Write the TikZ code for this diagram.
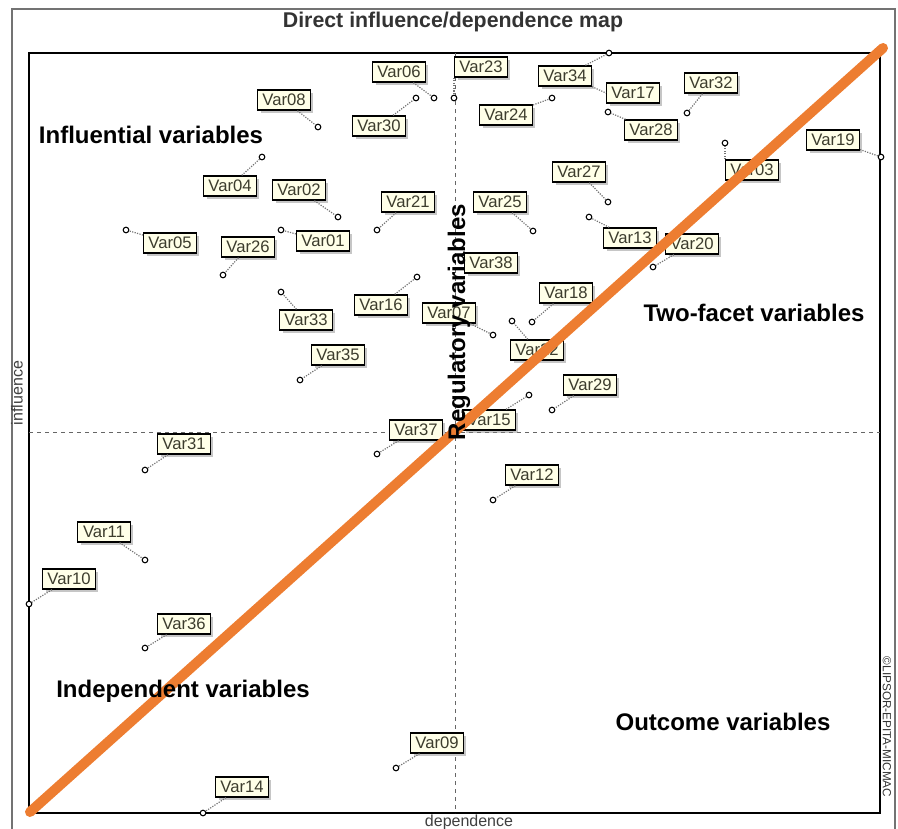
\documentclass[tikz,border=0pt]{standalone}
\usepackage{fontspec}
\setmainfont{Liberation Sans}
\usetikzlibrary{shadows}

\definecolor{labfill}{RGB}{255,255,232}
\definecolor{labtext}{RGB}{60,60,45}
\definecolor{diagline}{RGB}{237,125,49}
\definecolor{titletext}{RGB}{51,51,51}

\tikzset{every picture/.style={line width=0.75pt}}
\tikzset{
  varlab/.style={draw=black, line width=1pt, fill=labfill, text=labtext,
    font=\fontsize{12.5}{13}\selectfont, minimum width=39.5pt, minimum height=15pt,
    inner sep=0pt, drop shadow={shadow xshift=2.2pt, shadow yshift=-2.2pt, opacity=0.45}},
  varpt/.style={circle, draw=black, line width=0.8pt, fill=white, inner sep=0pt, minimum size=4.2pt},
  link/.style={densely dotted, black!55, line width=0.9pt},
  quadtext/.style={font=\fontsize{18}{20}\selectfont\bfseries, text=black},
}

\begin{document}
\begin{tikzpicture}[x=0.75pt,y=0.75pt,yscale=-1,xscale=1]
	\useasboundingbox (0,0) rectangle (898,828);

	%Shape: outer frame
	\draw [black!55, line width=1pt] (12,830) -- (12,9) -- (895,9) -- (895,830) ;
	% Text Node
	\node [font=\fontsize{16}{18}\selectfont\bfseries, text=titletext] (title) at (453,22) {Direct influence/dependence map};

	%Shape: plot frame
	\draw [line width=1.2pt] (29,53) rectangle (880,813) ;
	%Dashed axes
	\coordinate (axtop) at (455,53);
	\coordinate (axbot) at (455,813);
	\coordinate (axleft) at (29,432);
	\coordinate (axright) at (880,432);
	\draw [dashed, black!60, line width=0.6pt] (axtop) -- (axbot) ;
	\draw [dashed, black!60, line width=0.6pt] (axleft) -- (axright) ;

	% Axis names
	\node [rotate=90, font=\fontsize{12}{13}\selectfont, text=black!75] (infl) at (17,393) {influence};
	\node [font=\fontsize{12}{13}\selectfont, text=black!75] (dep) at (469,822) {dependence};
	\node [rotate=-90, font=\fontsize{8.8}{10}\selectfont, text=black!80] (copy) at (887,727) {©LIPSOR-EPITA-MICMAC};

	% Points
	\node [varpt] (p06) at (434,98) {};
	\node [varpt] (p08) at (318,127) {};
	\node [varpt] (p30) at (416,98) {};
	\node [varpt] (p04) at (262,157) {};
	\node [varpt] (p02) at (338,217) {};
	\node [varpt] (p21) at (377,230) {};
	\node [varpt] (p05) at (126,230) {};
	\node [varpt] (p26) at (223,275) {};
	\node [varpt] (p01) at (281,230) {};
	\node [varpt] (p23) at (454,98) {};
	\node [varpt] (p34) at (609,53) {};
	\node [varpt] (p24) at (552,98) {};
	\node [varpt] (p28) at (608,112) {};
	\node [varpt] (p32) at (687,113) {};
	\node [varpt] (p19) at (881,157) {};
	\node [varpt] (p03) at (725,143) {};
	\node [varpt] (p27) at (608,202) {};
	\node [varpt] (p25) at (533,231) {};
	\node [varpt] (p13) at (589,217) {};
	\node [varpt] (p20) at (653,267) {};
	\node [varpt] (p16) at (417,277) {};
	\node [varpt] (p07) at (493,335) {};
	\node [varpt] (p18) at (532,322) {};
	\node [varpt] (p22) at (512,321) {};
	\node [varpt] (p35) at (300,380) {};
	\node [varpt] (p33) at (281,292) {};
	\node [varpt] (p37) at (377,454) {};
	\node [varpt] (p31) at (145,470) {};
	\node [varpt] (p11) at (145,560) {};
	\node [varpt] (p10) at (29,604) {};
	\node [varpt] (p36) at (145,648) {};
	\node [varpt] (p14) at (203,813) {};
	\node [varpt] (p09) at (396,768) {};
	\node [varpt] (p29) at (552,410) {};
	\node [varpt] (p15) at (529,395) {};
	\node [varpt] (p12) at (493,500) {};

	% Labels
	\node [varlab] (v06) at (399,72) {Var06};
	\node [varlab] (v08) at (284,100) {Var08};
	\node [varlab] (v30) at (379,126) {Var30};
	\node [varlab] (v04) at (230,186) {Var04};
	\node [varlab] (v02) at (299,190) {Var02};
	\node [varlab] (v21) at (408,202) {Var21};
	\node [varlab] (v05) at (170,243) {Var05};
	\node [varlab] (v26) at (248,247) {Var26};
	\node [varlab] (v01) at (323,241) {Var01};
	\node [varlab] (v23) at (481,67) {Var23};
	\node [varlab] (v34) at (565,76) {Var34};
	\node [varlab] (v17) at (633,93) {Var17};
	\node [varlab] (v24) at (506,115) {Var24};
	\node [varlab] (v28) at (651,130) {Var28};
	\node [varlab] (v32) at (711,83) {Var32};
	\node [varlab] (v19) at (833,140) {Var19};
	\node [varlab] (v03) at (752,170) {Var03};
	\node [varlab] (v27) at (579,172) {Var27};
	\node [varlab] (v25) at (500,202) {Var25};
	\node [varlab] (v13) at (630,238) {Var13};
	\node [varlab] (v20) at (692,244) {Var20};
	\node [varlab] (v38) at (491,263) {Var38};
	\node [varlab] (v16) at (381,305) {Var16};
	\node [varlab] (v07) at (449,313) {Var07};
	\node [varlab] (v18) at (566,293) {Var18};
	\node [varlab] (v22) at (537,350) {Var22};
	\node [varlab] (v35) at (338,355) {Var35};
	\node [varlab] (v33) at (306,320) {Var33};
	\node [varlab] (v37) at (416,430) {Var37};
	\node [varlab] (v31) at (184,444) {Var31};
	\node [varlab] (v11) at (104,532) {Var11};
	\node [varlab] (v10) at (69,579) {Var10};
	\node [varlab] (v36) at (184,624) {Var36};
	\node [varlab] (v14) at (242,787) {Var14};
	\node [varlab] (v09) at (437,743) {Var09};
	\node [varlab] (v29) at (590,385) {Var29};
	\node [varlab] (v15) at (489,420) {Var15};
	\node [varlab] (v12) at (532,475) {Var12};

	% Dotted links
	\draw [link] (v06) -- (p06) ;
	\draw [link] (v08) -- (p08) ;
	\draw [link] (v30) -- (p30) ;
	\draw [link] (v04) -- (p04) ;
	\draw [link] (v02) -- (p02) ;
	\draw [link] (v21) -- (p21) ;
	\draw [link] (v05) -- (p05) ;
	\draw [link] (v26) -- (p26) ;
	\draw [link] (v01) -- (p01) ;
	\draw [link] (v23.south west) -- (p23) ;
	\draw [link] (v34) -- (p34) ;
	\draw [link] (v34.south east) -- (v17.west) ;
	\draw [link] (v24) -- (p24) ;
	\draw [link] (v28) -- (p28) ;
	\draw [link] (v32) -- (p32) ;
	\draw [link] (v19) -- (p19) ;
	\draw [link] (v03.north west) -- (p03) ;
	\draw [link] (v27) -- (p27) ;
	\draw [link] (v25) -- (p25) ;
	\draw [link] (v13) -- (p13) ;
	\draw [link] (v20) -- (p20) ;
	\draw [link] (v16) -- (p16) ;
	\draw [link] (v07) -- (p07) ;
	\draw [link] (v18) -- (p18) ;
	\draw [link] (v22) -- (p22) ;
	\draw [link] (v35) -- (p35) ;
	\draw [link] (v33) -- (p33) ;
	\draw [link] (v37) -- (p37) ;
	\draw [link] (v31) -- (p31) ;
	\draw [link] (v11) -- (p11) ;
	\draw [link] (v10) -- (p10) ;
	\draw [link] (v36) -- (p36) ;
	\draw [link] (v14) -- (p14) ;
	\draw [link] (v09) -- (p09) ;
	\draw [link] (v29) -- (p29) ;
	\draw [link] (v15) -- (p15) ;
	\draw [link] (v12) -- (p12) ;

	%Straight Lines: diagonal
	\coordinate (dstart) at (30,812);
	\coordinate (dend) at (883,48);
	\draw [diagline, line width=7.5pt, line cap=round] (dstart) -- (dend) ;

	% Quadrant names
	\node [quadtext] (infvar) at (151,135) {Influential variables};
	\node [quadtext] (twovar) at (754,313) {Two-facet variables};
	\node [quadtext] (indvar) at (183,691) {Independent variables};
	\node [quadtext] (outvar) at (723,722) {Outcome variables};
	\node [quadtext, rotate=90] (regvar) at (459,322) {Regulatory variables};

\end{tikzpicture}
\end{document}
